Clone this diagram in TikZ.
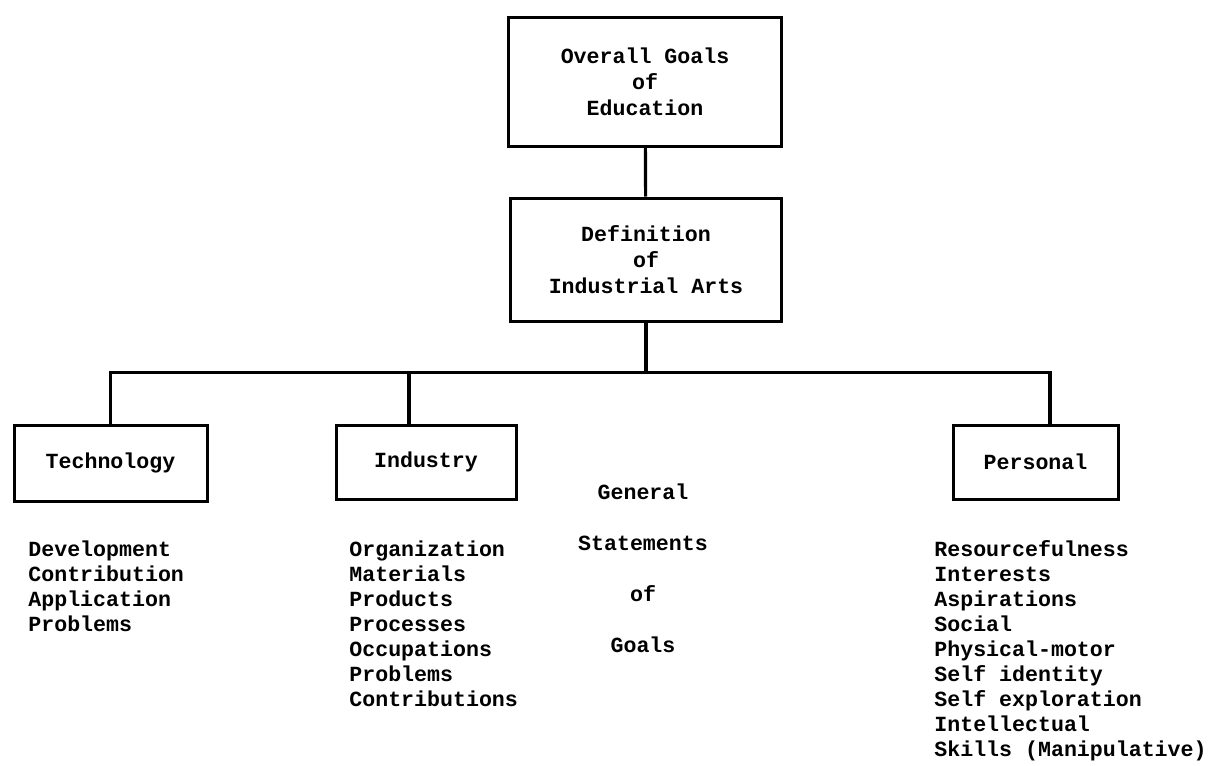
\documentclass[tikz,border=0pt]{standalone}
\usepackage{fontspec}
\setmainfont{Liberation Mono}

\tikzset{
  box/.style={draw, line width=1.5pt, align=center, inner sep=0pt, font=\bfseries\fontsize{10.8}{13}\selectfont},
  list/.style={align=left, inner sep=0pt, anchor=north west, font=\bfseries\fontsize{10.8}{12.5}\selectfont},
  link/.style={line width=1.6pt}
}

\begin{document}
\begin{tikzpicture}[x=0.5pt, y=-0.5pt]
  \useasboundingbox (0,0) rectangle (1211,766);

  \node[box, minimum width=136.5pt, minimum height=64.5pt] (goals) at (645,81.5) {Overall Goals\\of\\Education};
  \node[box, minimum width=135.5pt, minimum height=61.5pt] (defn) at (646,259.5) {Definition\\of\\Industrial Arts};

  \node[box, minimum width=96.5pt, minimum height=38pt] (tech) at (110.5,463) {Technology};
  \node[box, minimum width=90pt, minimum height=37pt] (ind) at (426,462) {Industry};
  \node[box, minimum width=82.5pt, minimum height=37pt] (pers) at (1035.5,462) {Personal};

  \coordinate (busL) at (110.5,372.5);
  \coordinate (busI) at (409,372.5);
  \coordinate (busR) at (1050,372.5);

  \draw[link] (goals) -- (defn);
  \draw[link] (defn.south) -- (defn.south |- busL);
  \draw[link] (tech.north) -- (busL) -- (busR) -- (busR |- pers.north);
  \draw[link] (busI) -- (busI |- ind.north);

  \node[list] (techlist) at (28,540) {Development\\Contribution\\Application\\Problems};
  \node[list] (indlist) at (349,540) {Organization\\Materials\\Products\\Processes\\Occupations\\Problems\\Contributions};
  \node[list] (perslist) at (934,540) {Resourcefulness\\Interests\\Aspirations\\Social\\Physical-motor\\Self identity\\Self exploration\\Intellectual\\Skills (Manipulative)};

  \node[align=center, inner sep=0pt, font=\bfseries\fontsize{10.8}{25.5}\selectfont] (general) at (643,568.5) {General\\Statements\\of\\Goals};
\end{tikzpicture}
\end{document}
